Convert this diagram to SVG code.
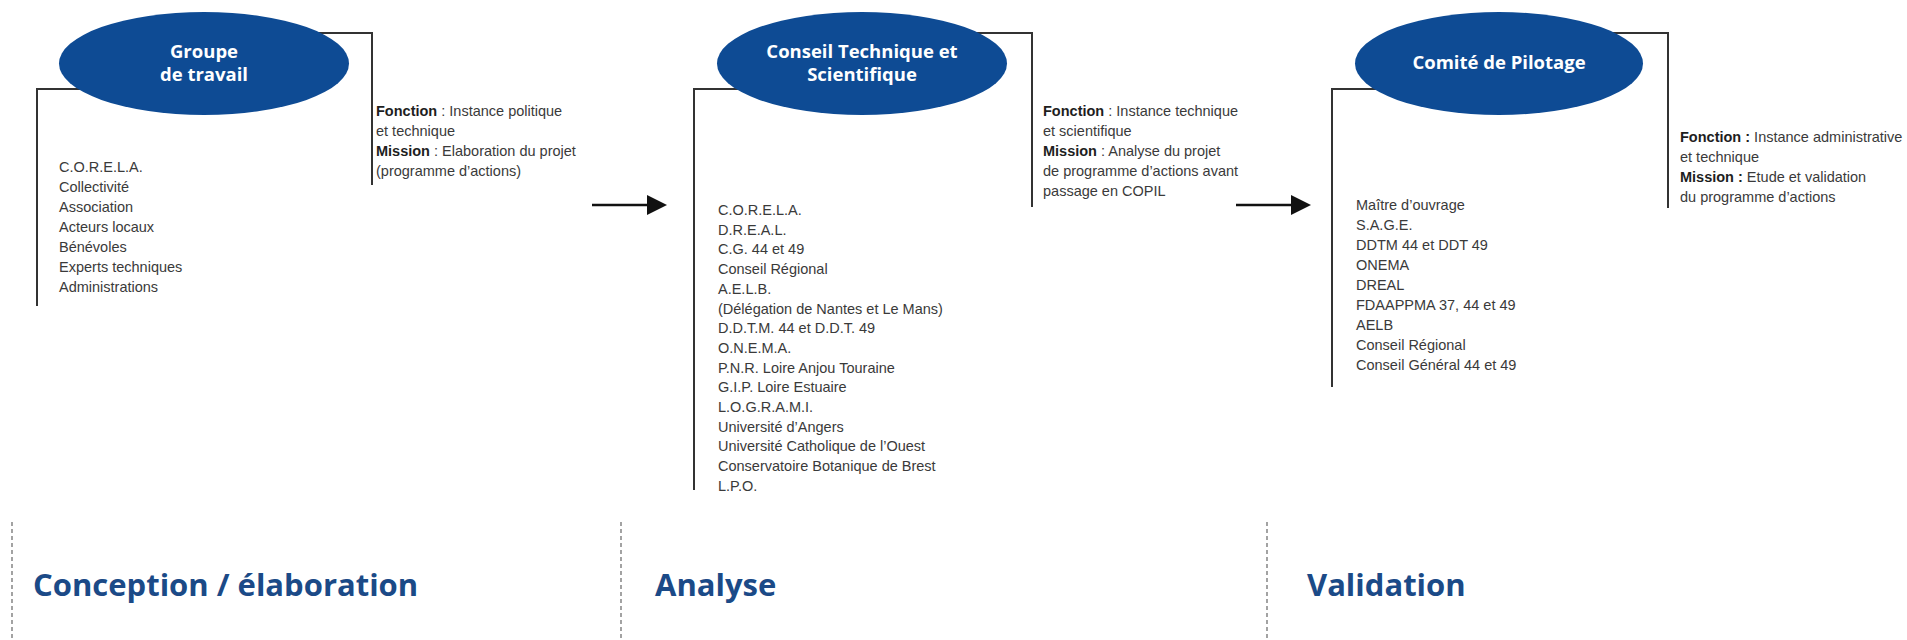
<svg xmlns="http://www.w3.org/2000/svg" width="1907" height="640" viewBox="0 0 1907 640">
<defs>
<style>
.ell{fill:#0e4b94}
.et{font-family:"Open Sans","Liberation Sans",sans-serif;font-weight:700;font-size:18.5px;fill:#ffffff;text-anchor:middle}
.br{fill:none;stroke:#333333;stroke-width:2}
.tx{font-family:"Liberation Sans",Arial,sans-serif;font-size:14.5px;fill:#3a3a3a}
.b{font-weight:700;fill:#1e1e1e}
.ar{stroke:#111111;stroke-width:2.6;fill:none}
.ah{fill:#111111}
.dl{stroke:#666666;stroke-width:1.2;stroke-dasharray:4 3}
.ti{font-family:"Open Sans","Liberation Sans",sans-serif;font-weight:700;font-size:31px;fill:#1b4a87}
</style>
</defs>
<rect width="1907" height="640" fill="#ffffff"/>

<g id="connectors">
  <path class="br" d="M37,306 V89 H90"/>
  <path class="br" d="M310,33 H372 V185"/>
  <path class="br" d="M694,490 V89 H750"/>
  <path class="br" d="M970,33 H1032 V207"/>
  <path class="br" d="M1332,387 V89 H1385"/>
  <path class="br" d="M1605,33 H1668 V208"/>
  <line class="ar" x1="592" y1="205" x2="650" y2="205"/>
  <polygon class="ah" points="647,195 667,205 647,215"/>
  <line class="ar" x1="1236" y1="205" x2="1294" y2="205"/>
  <polygon class="ah" points="1291,195 1311,205 1291,215"/>
</g>

<g id="node-groupe">
  <ellipse class="ell" cx="204" cy="63.5" rx="145" ry="51.5"/>
  <text class="et" x="204" y="57.5">Groupe</text>
  <text class="et" x="204" y="80.5">de travail</text>
</g>
<g id="info-groupe">
  <text class="tx" x="376" y="116"><tspan class="b">Fonction</tspan> : Instance politique</text>
  <text class="tx" x="376" y="136">et technique</text>
  <text class="tx" x="376" y="156"><tspan class="b">Mission</tspan> : Elaboration du projet</text>
  <text class="tx" x="376" y="176">(programme d’actions)</text>
</g>
<g id="members-groupe">
  <text class="tx" x="59" y="172">C.O.R.E.L.A.</text>
  <text class="tx" x="59" y="192">Collectivité</text>
  <text class="tx" x="59" y="212">Association</text>
  <text class="tx" x="59" y="232">Acteurs locaux</text>
  <text class="tx" x="59" y="252">Bénévoles</text>
  <text class="tx" x="59" y="272">Experts techniques</text>
  <text class="tx" x="59" y="292">Administrations</text>
</g>

<g id="node-conseil">
  <ellipse class="ell" cx="862" cy="63.5" rx="145" ry="51.5"/>
  <text class="et" x="862" y="57.5">Conseil Technique et</text>
  <text class="et" x="862" y="80.5">Scientifique</text>
</g>
<g id="info-conseil">
  <text class="tx" x="1043" y="116"><tspan class="b">Fonction</tspan> : Instance technique</text>
  <text class="tx" x="1043" y="136">et scientifique</text>
  <text class="tx" x="1043" y="156"><tspan class="b">Mission</tspan> : Analyse du projet</text>
  <text class="tx" x="1043" y="176">de programme d’actions avant</text>
  <text class="tx" x="1043" y="196">passage en COPIL</text>
</g>
<g id="members-conseil">
  <text class="tx" x="718" y="215">C.O.R.E.L.A.</text>
  <text class="tx" x="718" y="234.7">D.R.E.A.L.</text>
  <text class="tx" x="718" y="254.4">C.G. 44 et 49</text>
  <text class="tx" x="718" y="274.1">Conseil Régional</text>
  <text class="tx" x="718" y="293.8">A.E.L.B.</text>
  <text class="tx" x="718" y="313.5">(Délégation de Nantes et Le Mans)</text>
  <text class="tx" x="718" y="333.2">D.D.T.M. 44 et D.D.T. 49</text>
  <text class="tx" x="718" y="352.9">O.N.E.M.A.</text>
  <text class="tx" x="718" y="372.6">P.N.R. Loire Anjou Touraine</text>
  <text class="tx" x="718" y="392.3">G.I.P. Loire Estuaire</text>
  <text class="tx" x="718" y="412">L.O.G.R.A.M.I.</text>
  <text class="tx" x="718" y="431.7">Université d’Angers</text>
  <text class="tx" x="718" y="451.4">Université Catholique de l’Ouest</text>
  <text class="tx" x="718" y="471.1">Conservatoire Botanique de Brest</text>
  <text class="tx" x="718" y="490.8">L.P.O.</text>
</g>

<g id="node-comite">
  <ellipse class="ell" cx="1499" cy="63.5" rx="144" ry="51.5"/>
  <text class="et" x="1499" y="68.5">Comité de Pilotage</text>
</g>
<g id="info-comite">
  <text class="tx" x="1680" y="142"><tspan class="b">Fonction :</tspan> Instance administrative</text>
  <text class="tx" x="1680" y="162">et technique</text>
  <text class="tx" x="1680" y="182"><tspan class="b">Mission :</tspan> Etude et validation</text>
  <text class="tx" x="1680" y="202">du programme d’actions</text>
</g>
<g id="members-comite">
  <text class="tx" x="1356" y="210">Maître d’ouvrage</text>
  <text class="tx" x="1356" y="230">S.A.G.E.</text>
  <text class="tx" x="1356" y="250">DDTM 44 et DDT 49</text>
  <text class="tx" x="1356" y="270">ONEMA</text>
  <text class="tx" x="1356" y="290">DREAL</text>
  <text class="tx" x="1356" y="310">FDAAPPMA 37, 44 et 49</text>
  <text class="tx" x="1356" y="330">AELB</text>
  <text class="tx" x="1356" y="350">Conseil Régional</text>
  <text class="tx" x="1356" y="370">Conseil Général 44 et 49</text>
</g>

<g id="phases">
  <line class="dl" x1="12" y1="522" x2="12" y2="640"/>
  <line class="dl" x1="621" y1="522" x2="621" y2="640"/>
  <line class="dl" x1="1267" y1="522" x2="1267" y2="640"/>
  <text class="ti" x="33" y="596">Conception / élaboration</text>
  <text class="ti" x="655" y="596">Analyse</text>
  <text class="ti" x="1307" y="596">Validation</text>
</g>
</svg>
